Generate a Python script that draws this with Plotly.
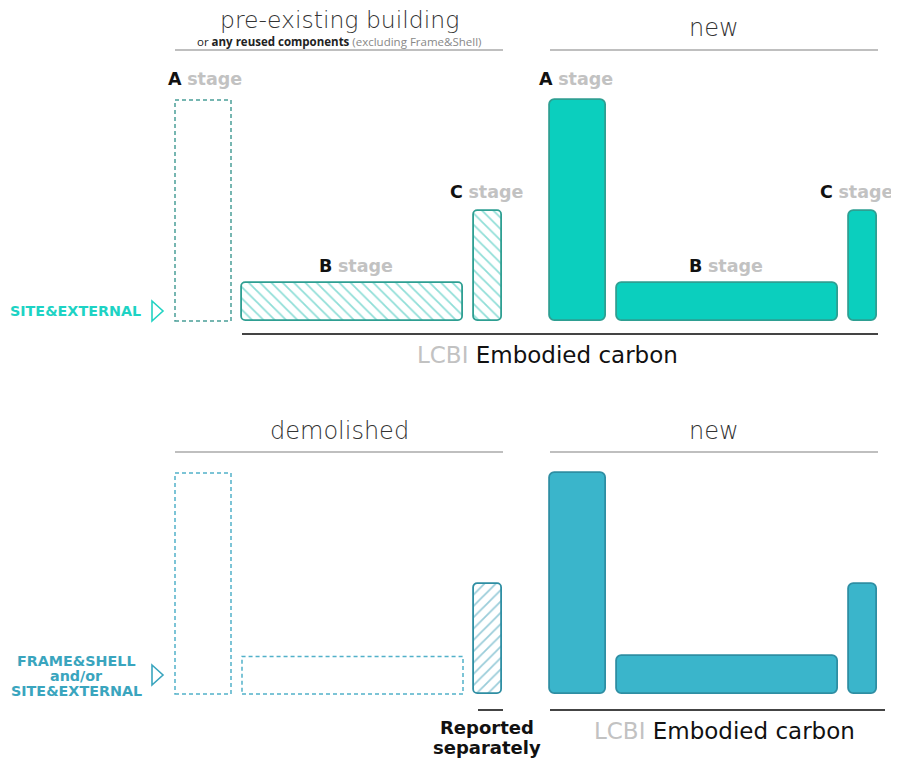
import plotly.graph_objects as go

# ---------------- data ----------------
stages = ["A", "B", "C"]
pre_existing_values = [10.0, 1.7, 5.0]      # top-left (A dashed, B/C hatched)
new_top_values = [10.0, 1.7, 5.0]           # top-right (solid)
demolished_values = [10.0, 1.7, 5.0]        # bottom-left (A/B dashed, C hatched)
new_bottom_values = [10.0, 1.7, 5.0]        # bottom-right (solid)
stage_widths = [56, 221, 28]                # relative widths of the stage bars
top_headers = ["pre-existing building", "new"]
bottom_headers = ["demolished", "new"]

# ---------------- layout constants (pixels) ----------------
W, H = 899, 763
OFF = 8              # page body margin offset
UNIT = 22.1          # px per value unit
TOP_BASE = 321
BOT_BASE = 694
GAP = 11
LEFT_START = 175
RIGHT_START = 550

def centers(start):
    out, x = [], start
    for w in stage_widths:
        out.append(x + w / 2)
        x += w + GAP
    return out

left_c = centers(LEFT_START)
right_c = centers(RIGHT_START)

TOP_FILL, TOP_LINE = "#0bcfbe", "#2e9f92"
TOP_HATCH = "#1fbdb0"
TOP_DASH = "#4a9e98"
BOT_FILL, BOT_LINE = "#3ab5cb", "#2e8ea3"
BOT_HATCH = "#3399b3"
BOT_DASH = "#52b1c9"

fig = go.Figure()

def solid(xs, vals, yaxis, fill, line):
    fig.add_trace(go.Bar(
        x=xs, y=vals, width=stage_widths, base=0,
        marker=dict(color=fill, line=dict(color=line, width=1.8), cornerradius=6),
        yaxis=yaxis, hoverinfo="skip", showlegend=False))

solid(right_c, new_top_values, "y", TOP_FILL, TOP_LINE)
solid(right_c, new_bottom_values, "y2", BOT_FILL, BOT_LINE)

fig.add_trace(go.Bar(
    x=[left_c[1], left_c[2]], y=[pre_existing_values[1], pre_existing_values[2]],
    width=[stage_widths[1], stage_widths[2]], base=0, yaxis="y",
    marker=dict(color="white", line=dict(color=TOP_LINE, width=1.8), cornerradius=5,
                pattern=dict(shape="\\", fgcolor=TOP_HATCH, bgcolor="white",
                             size=8, solidity=0.22)),
    hoverinfo="skip", showlegend=False))
fig.add_trace(go.Bar(
    x=[left_c[2]], y=[demolished_values[2]],
    width=[stage_widths[2]], base=0, yaxis="y2",
    marker=dict(color="white", line=dict(color=BOT_LINE, width=1.8), cornerradius=5,
                pattern=dict(shape="/", fgcolor=BOT_HATCH, bgcolor="white",
                             size=8, solidity=0.22)),
    hoverinfo="skip", showlegend=False))

shapes = []
def dashed(i, vals, yref, color):
    shapes.append(dict(type="rect", xref="x", yref=yref,
                       x0=left_c[i] - stage_widths[i] / 2, x1=left_c[i] + stage_widths[i] / 2,
                       y0=0, y1=vals[i], line=dict(color=color, width=1.5, dash="4px,3px"),
                       fillcolor="rgba(0,0,0,0)", layer="above"))

dashed(0, pre_existing_values, "y", TOP_DASH)
dashed(0, demolished_values, "y2", BOT_DASH)
dashed(1, demolished_values, "y2", BOT_DASH)

def hline(x0, x1, y, color, width):
    shapes.append(dict(type="line", xref="x", yref="y3", x0=x0, x1=x1, y0=y, y1=y,
                       line=dict(color=color, width=width)))

hline(175, 503, 50, "#aaaaaa", 1.5)
hline(550, 878, 50, "#aaaaaa", 1.5)
hline(175, 503, 452, "#aaaaaa", 1.5)
hline(550, 878, 452, "#aaaaaa", 1.5)
hline(242, 878, 334, "#444444", 2)
hline(550, 885, 710, "#444444", 2)
hline(478, 503, 710, "#444444", 2)

def tri(x, y, color):
    shapes.append(dict(type="path", xref="x", yref="y3",
                       path=f"M {x-5},{y-10} L {x+6},{y} L {x-5},{y+10} Z",
                       line=dict(color=color, width=1.6), fillcolor="rgba(0,0,0,0)"))

tri(157, 311, "#22d3c3")
tri(157, 675, "#3aa5be")

fig.update_layout(shapes=shapes)

FONT = "DejaVu Sans"
ann = []
def text(x, y, t, size, color="#222222", weight=None, family=FONT):
    f = dict(family=family, size=size, color=color)
    if weight:
        f["weight"] = weight
    ann.append(dict(x=x, y=y, xref="x", yref="y3", text=t, showarrow=False,
                    font=f, align="center", xanchor="center", yanchor="middle", borderpad=0))

GRAY = "#c2c2c2"
text(339, 20, top_headers[0], 23.5, "#333333", 200)
text(339, 41, "or <b>any reused components</b> <span style='color:#888888'>(excluding Frame&amp;Shell)</span>",
     11.5, "#222222", 400, "Open Sans")
text(714, 28, top_headers[1], 24, "#333333", 200)
text(339, 431, bottom_headers[0], 24, "#333333", 200)
text(714, 431, bottom_headers[1], 24, "#333333", 200)

def stage_label(cx, y, s):
    text(cx, y, f"<b>{s}</b> <b><span style='color:{GRAY}'>stage</span></b>", 17.5, "#111111")

stage_label(205, 79, stages[0])
stage_label(356, 266, stages[1])
stage_label(487, 192, stages[2])
stage_label(576, 79, stages[0])
stage_label(726, 266, stages[1])
stage_label(857, 192, stages[2])

text(75, 311, "<b>SITE&amp;EXTERNAL</b>", 14.3, "#1dd3c4")
for yy, line in zip([661, 676, 691], ["FRAME&amp;SHELL", "and/or", "SITE&amp;EXTERNAL"]):
    text(76, yy, f"<b>{line}</b>", 14.3, "#3aa5be")

text(547, 355, f"<span style='color:{GRAY}'>LCBI</span> Embodied carbon", 23, "#111111", 500)
text(724, 731, f"<span style='color:{GRAY}'>LCBI</span> Embodied carbon", 23, "#111111", 500)
text(487, 727, "<b>Reported</b>", 18, "#111111")
text(487, 747, "<b>separately</b>", 18, "#111111")

fig.update_layout(annotations=ann)

fig.update_layout(
    width=W, height=H, autosize=False,
    margin=dict(l=0, r=0, t=0, b=0, pad=0),
    paper_bgcolor="white", plot_bgcolor="white",
    barmode="overlay", bargap=0,
    xaxis=dict(range=[OFF, W + OFF], visible=False, fixedrange=True),
    yaxis=dict(range=[-(H - TOP_BASE + OFF) / UNIT, (TOP_BASE - OFF) / UNIT],
               visible=False, domain=[0, 1]),
    yaxis2=dict(range=[-(H - BOT_BASE + OFF) / UNIT, (BOT_BASE - OFF) / UNIT],
                visible=False, overlaying="y", domain=[0, 1]),
    yaxis3=dict(range=[H + OFF, OFF], visible=False, overlaying="y", domain=[0, 1]),
    showlegend=False,
)
fig.add_trace(go.Scatter(x=[OFF + 1], y=[OFF + 1], yaxis="y3", mode="markers",
                         marker=dict(opacity=0), hoverinfo="skip", showlegend=False))

fig.write_html("out.html")
